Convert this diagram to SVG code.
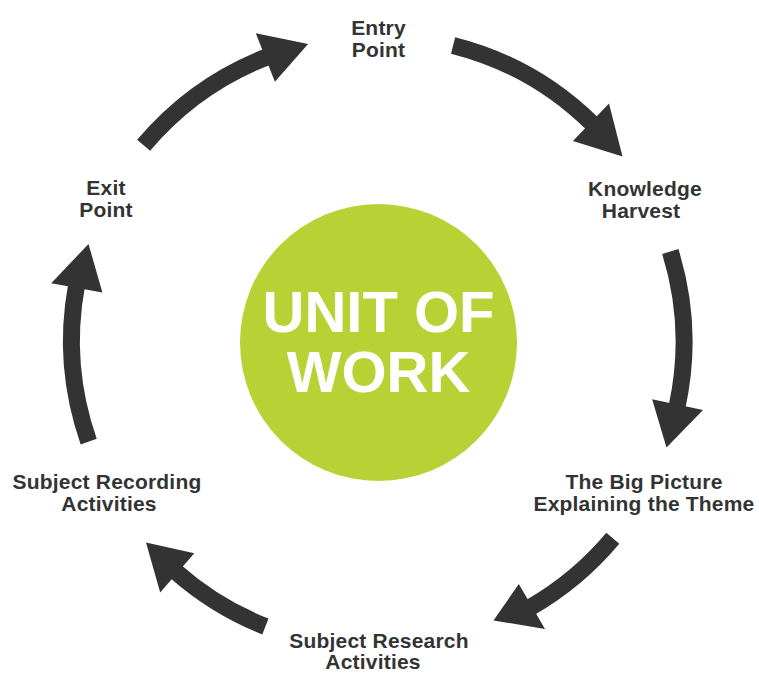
<svg xmlns="http://www.w3.org/2000/svg" width="759" height="673" viewBox="0 0 759 673">
<style>
.lbl{font-family:"Liberation Sans",Arial,Helvetica,sans-serif;font-weight:bold;font-size:21px;letter-spacing:0.2px;fill:#333333;text-anchor:middle}
.big{font-family:"Liberation Sans",Arial,Helvetica,sans-serif;font-weight:bold;font-size:58px;fill:#ffffff;text-anchor:middle}
.body{fill:none;stroke:#333333;stroke-width:17}
.head{fill:#333333}
</style>
<rect width="759" height="673" fill="#ffffff"/>
<g id="center">
<circle cx="378.5" cy="342.5" r="138.5" fill="#b8d235"/>
<text class="big" x="378.5" y="332">UNIT OF</text>
<text class="big" x="378.5" y="392">WORK</text>
</g>
<g id="connectors">
<path class="body" d="M143.6,145.3 A306,306 0 0 1 267.5,56.7"/>
<polygon class="head" points="255.8,33.3 308.1,44.1 274.9,81.7"/>
<path class="body" d="M453.1,45.4 A306,306 0 0 1 592.4,123.8"/>
<polygon class="head" points="609.0,103.6 622.5,156.5 572.9,140.9"/>
<path class="body" d="M670.3,251.5 A306,306 0 0 1 677.0,407.0"/>
<polygon class="head" points="703.0,409.9 666.5,447.5 652.1,399.3"/>
<path class="body" d="M612.8,538.3 A306,306 0 0 1 530.0,607.6"/>
<polygon class="head" points="545.0,628.9 493.5,620.5 518.8,584.0"/>
<path class="body" d="M265.4,626.5 A306,306 0 0 1 175.5,571.3"/>
<polygon class="head" points="160.2,592.6 146.0,542.5 194.3,553.3"/>
<path class="body" d="M88.7,441.6 A306,306 0 0 1 76.5,285.5"/>
<polygon class="head" points="51.2,283.2 88.5,244.0 102.4,292.4"/>
</g>
<g id="entry"><text class="lbl" x="378.5" y="35">Entry</text><text class="lbl" x="378.5" y="57">Point</text></g>
<g id="knowledge"><text class="lbl" x="645" y="196">Knowledge</text><text class="lbl" x="641" y="218">Harvest</text></g>
<g id="bigpicture"><text class="lbl" x="644" y="489">The Big Picture</text><text class="lbl" x="644" y="511">Explaining the Theme</text></g>
<g id="research"><text class="lbl" x="379" y="648">Subject Research</text><text class="lbl" x="373" y="669">Activities</text></g>
<g id="recording"><text class="lbl" x="107" y="489">Subject Recording</text><text class="lbl" x="109" y="511">Activities</text></g>
<g id="exit"><text class="lbl" x="106" y="195">Exit</text><text class="lbl" x="106" y="217">Point</text></g>
</svg>
